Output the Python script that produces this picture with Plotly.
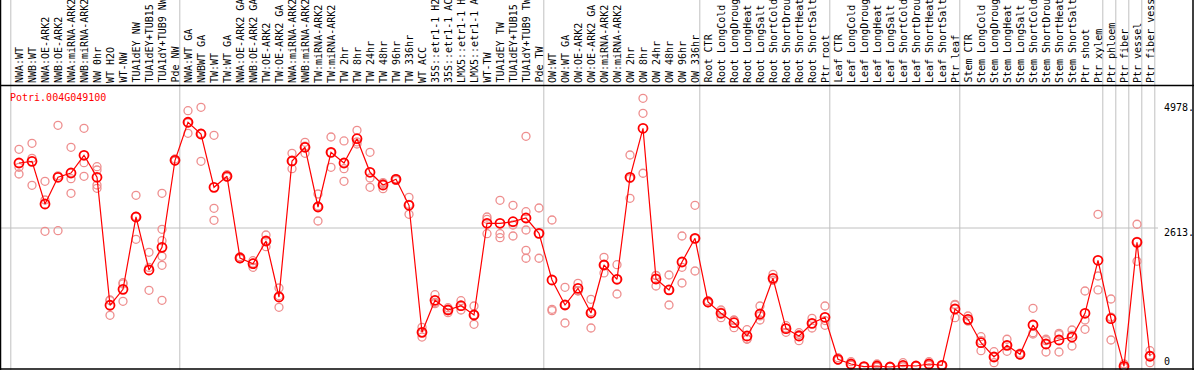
import plotly.graph_objects as go

gene = "Potri.004G049100"

categories = [
    "NWA:WT", "NWB:WT", "NWA:OE-ARK2", "NWB:OE-ARK2", "NWA:miRNA-ARK2", "NWB:miRNA-ARK2",
    "NW 0hr", "WT H2O", "WT-NW", "TUA1dEY NW", "TUA1dEY+TUB15 NW", "TUA1dY+TUB9 NW", "Pde NW",
    "NWA:WT GA", "NWBWT GA", "TW:WT", "TW:WT GA", "NWA:OE-ARK2 GA", "NWB:OE-ARK2 GA",
    "TW:OE-ARK2", "TW:OE-ARK2 GA", "NWA:miRNA-ARK2 GA", "NWB:miRNA-ARK2 GA", "TW:miRNA-ARK2",
    "TW:miRNA-ARK2 GA", "TW 2hr", "TW 8hr", "TW 24hr", "TW 48hr", "TW 96hr", "TW 336hr",
    "WT ACC", "35S::etr1-1 H2O", "35S::etr1-1 ACC", "LMX5::etr1-1 H2O", "LMX5::etr1-1 ACC",
    "WT-TW", "TUA1dEY TW", "TUA1dEY+TUB15 TW", "TUA1dY+TUB9 TW", "Pde TW",
    "OW:WT", "OW:WT GA", "OW:OE-ARK2", "OW:OE-ARK2 GA", "OW:miRNA-ARK2", "OW:miRNA-ARK2 GA",
    "OW 2hr", "OW 8hr", "OW 24hr", "OW 48hr", "OW 96hr", "OW 336hr",
    "Root CTR", "Root LongCold", "Root LongDrought", "Root LongHeat", "Root LongSalt",
    "Root ShortCold", "Root ShortDrought", "Root ShortHeat", "Root ShortSalt", "Ptr root",
    "Leaf CTR", "Leaf LongCold", "Leaf LongDrought", "Leaf LongHeat", "Leaf LongSalt",
    "Leaf ShortCold", "Leaf ShortDrought", "Leaf ShortHeat", "Leaf ShortSalt", "Ptr leaf",
    "Stem CTR", "Stem LongCold", "Stem LongDrought", "Stem LongHeat", "Stem LongSalt",
    "Stem ShortCold", "Stem ShortDrought", "Stem ShortHeat", "Stem ShortSalt", "Ptr shoot",
    "Ptr xylem", "Ptr phloem", "Ptr fiber", "Ptr vessel", "Ptr fiber vessel",
]

group_sizes = [13, 28, 12, 10, 10, 11, 1, 1, 1, 1]

means = [
    3798, 3829, 3051, 3538, 3616, 3939, 3538, 1204, 1495, 2814, 1847, 2261, 3848,
    4541, 4327, 3355, 3556, 2066, 1962, 2376, 1355, 3835, 4085, 2996, 3993, 3798, 4241,
    3629, 3397, 3501, 3027, 711, 1295, 1118, 1196, 1027, 2699, 2699, 2728, 2795, 2516,
    1665, 1209, 1513, 1063, 1938, 1678, 3538, 4431, 1683, 1483, 1993, 2425,
    1264, 1058, 886, 644, 1045, 1696, 777, 644, 875, 985,
    219, 133, 84, 97, 78, 109, 97, 133, 109, 1136,
    948, 522, 261, 474, 310, 844, 498, 571, 625, 1058, 2024,
    959, 91, 2352, 274,
]

replicates = [
    [4048, 3720, 3598], [4158, 3884, 3392], [3465, 3124, 2553], [4486, 2564, 3564],
    [4085, 3512, 3246], [4431, 3804, 3556], [3731, 3671, 3397, 3337], [1300, 1291, 1021],
    [1616, 1593, 1276], [3209, 2826, 2407], [2170, 1894, 1477],
    [3246, 2589, 2382, 2097, 1933, 1295], [3871, 3835, 3838],
    [4752, 4340, 4531], [4814, 3829, 4338], [4303, 2972, 2753], [3585, 3540, 3543],
    [2090, 2055, 2053], [2017, 1896, 1973], [2485, 2272, 2371], [1519, 1167, 1379],
    [3975, 3694, 3836], [4176, 3975, 4104], [3233, 2741, 3014], [4272, 3720, 3987],
    [4200, 3694, 3465], [4395, 4145, 4183], [3993, 3525, 3355], [3330, 3420, 3441],
    [3480, 3510, 3513], [3173, 2863, 3045], [802, 625, 706], [1397, 1233, 1255],
    [1160, 1069, 1125], [1287, 1118, 1183], [1191, 857, 1033], [2814, 2772, 2509],
    [3118, 2509, 2436], [3027, 2668, 2467], [4285, 2910, 2577, 2206, 2061],
    [2978, 2061, 2509],
    [2759, 1131, 1105], [1532, 881, 1214], [1605, 1470, 1464], [1313, 790, 1086],
    [2079, 1793, 1942], [1944, 1410, 1680], [3944, 3155, 3515], [4978, 4705, 3611],
    [1751, 1555, 1743], [1756, 1209, 1484], [2467, 1896, 1610], [3027, 1829, 2419],
    [1287, 1250, 1255], [1118, 977, 1079], [935, 795, 928], [759, 584, 589],
    [1191, 935, 1009], [1769, 1660, 1659], [832, 711, 788], [704, 558, 670],
    [966, 790, 869], [1191, 839, 925],
    [248, 205, 204], [175, 112, 112], [90, 80, 82], [133, 80, 78], [75, 80, 79],
    [157, 85, 85], [100, 95, 96], [175, 112, 112], [115, 105, 107], [1222, 977, 1209],
    [1008, 918, 918], [631, 376, 559], [357, 157, 269], [584, 365, 473], [330, 300, 300],
    [1149, 680, 703], [584, 352, 558], [693, 352, 668], [753, 461, 661],
    [1464, 935, 766], [2863, 1738, 1483],
    [1318, 571, 988], [133, 70, 70], [2681, 2006, 2369], [376, 157, 289],
]

y_ticks = [0, 2613, 4978]
y_tick_labels = ["0", "2613.", "4978."]

W, H = 1194, 370
N = len(categories)
x_idx = list(range(N))

# pixel helpers (layout only)
def px_to_x(px):
    return (px - 19) / 13.0

def py_to_paper(py):
    return 1 - py / H

fig = go.Figure()

rx, ry = [], []
for i, reps in enumerate(replicates):
    for v in reps:
        rx.append(i)
        ry.append(v)

fig.add_trace(go.Scatter(
    x=rx, y=ry, mode="markers",
    marker=dict(symbol="circle-open", size=8, color="#ee8e8e", line=dict(width=1.3, color="#ee8e8e")),
    hoverinfo="skip", showlegend=False, cliponaxis=False,
))
fig.add_trace(go.Scatter(
    x=x_idx, y=means, mode="lines+markers",
    line=dict(color="#ff0000", width=1.2),
    marker=dict(symbol="circle-open", size=9, color="#ff0000", line=dict(width=1.8, color="#ff0000")),
    showlegend=False, cliponaxis=False,
))

shapes = []
k = 0
bounds = [0]
for g in group_sizes:
    k += g
    bounds.append(k)
for b in bounds:
    xb = b - 0.63
    shapes.append(dict(type="line", xref="x", yref="paper", x0=xb, x1=xb, y0=0, y1=1,
                       line=dict(color="#c0c0c0", width=1), layer="below"))
shapes.append(dict(type="line", xref="paper", yref="y", x0=0, x1=1158 / W, y0=y_ticks[1], y1=y_ticks[1],
                   line=dict(color="#c0c0c0", width=1), layer="below"))
shapes.append(dict(type="line", xref="paper", yref="paper", x0=0, x1=1, y0=py_to_paper(85.5), y1=py_to_paper(85.5),
                   line=dict(color="black", width=1.5)))
shapes.append(dict(type="line", xref="paper", yref="paper", x0=0.5 / W, x1=0.5 / W, y0=0, y1=1,
                   line=dict(color="black", width=1.5)))
shapes.append(dict(type="line", xref="paper", yref="paper", x0=1193 / W, x1=1193 / W, y0=0, y1=1,
                   line=dict(color="black", width=1.5)))
shapes.append(dict(type="line", xref="paper", yref="paper", x0=0, x1=1, y0=1 - 369 / H, y1=1 - 369 / H,
                   line=dict(color="black", width=1.5)))

annotations = []
mono = "DejaVu Sans Mono"
for i, lab in enumerate(categories):
    annotations.append(dict(
        x=i, y=py_to_paper(84), xref="x", yref="paper", text=lab, textangle=-90,
        showarrow=False, xanchor="center", yanchor="bottom", borderpad=0,
        font=dict(family=mono, size=10, color="black"),
    ))
annotations.append(dict(
    x=8 / W, y=py_to_paper(97), xref="paper", yref="paper", text=gene, showarrow=False,
    xanchor="left", yanchor="middle", font=dict(family=mono, size=10, color="#ff0000"),
))
label_py = [361.7, 232.7, 107.5]
for lab, py in zip(y_tick_labels, label_py):
    annotations.append(dict(
        x=1162 / W, y=py_to_paper(py), xref="paper", yref="paper", text=lab, showarrow=False,
        xanchor="left", yanchor="middle", font=dict(family=mono, size=10, color="black"),
    ))

y_top = 371.3 / 0.05484
y_bot = (371.3 - H) / 0.05484

fig.update_layout(
    width=W, height=H, margin=dict(l=0, r=0, t=0, b=0),
    paper_bgcolor="white", plot_bgcolor="white",
    xaxis=dict(range=[px_to_x(0), px_to_x(W)], visible=False, showgrid=False, zeroline=False, fixedrange=True),
    yaxis=dict(range=[y_bot, y_top], visible=False, showgrid=False, zeroline=False, fixedrange=True),
    shapes=shapes, annotations=annotations, showlegend=False,
)

fig.write_html("out.html", config={"displayModeBar": False},
               post_script="document.body.style.margin='0';document.body.style.overflow='hidden';")
